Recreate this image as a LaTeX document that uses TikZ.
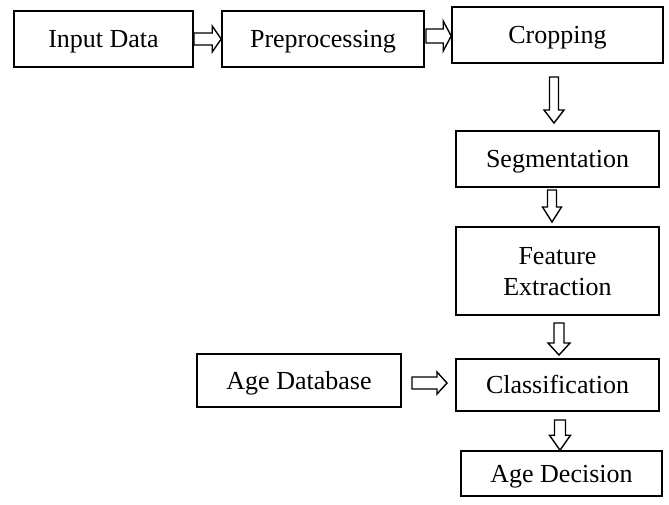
\documentclass[tikz,border=0pt]{standalone}
\usepackage{fontspec}
\setmainfont{Liberation Serif}
\usetikzlibrary{calc}
\tikzset{
  box/.style={draw, line width=1.6pt, inner sep=0pt, align=center,
    font=\fontsize{26}{31}\selectfont, text height=17pt, text depth=0pt},
  barrow/.style={draw, line width=1.4pt, fill=white, line join=miter}
}
% horizontal block arrow: from, to, shaft half, head half, head length
\newcommand\harrow[5]{%
  \draw[barrow] ($(#1)+(0,-#3)$) -- ($(#2)+(-#5,-#3)$) -- ($(#2)+(-#5,-#4)$) -- (#2)
    -- ($(#2)+(-#5,#4)$) -- ($(#2)+(-#5,#3)$) -- ($(#1)+(0,#3)$) -- cycle;}
% downward block arrow
\newcommand\varrow[5]{%
  \draw[barrow] ($(#1)+(-#3,0)$) -- ($(#2)+(-#3,-#5)$) -- ($(#2)+(-#4,-#5)$) -- (#2)
    -- ($(#2)+(#4,-#5)$) -- ($(#2)+(#3,-#5)$) -- ($(#1)+(#3,0)$) -- cycle;}
\begin{document}
\begin{tikzpicture}[x=1pt,y=-1pt]
\useasboundingbox (0,0) rectangle (669,504);
\node[box, minimum width=179pt, minimum height=56pt] (inp) at (103.5,39) {Input Data};
\node[box, minimum width=202pt, minimum height=56pt] (pre) at (323,39) {Preprocessing};
\node[box, minimum width=211pt, minimum height=56pt] (crop) at (557.5,35) {Cropping};
\node[box, minimum width=203pt, minimum height=56pt] (seg) at (557.5,159) {Segmentation};
\node[box, minimum width=203pt, minimum height=88pt, text height=48pt] (fe) at (557.5,271) {Feature\\Extraction};
\node[box, minimum width=203pt, minimum height=52pt] (cls) at (557.5,385) {Classification};
\node[box, minimum width=201pt, minimum height=45pt] (dec) at (561.5,473.5) {Age Decision};
\node[box, minimum width=204pt, minimum height=53pt] (adb) at (299,380.5) {Age Database};
% arrow end points
\coordinate (a1s) at (inp.east);
\coordinate (a1e) at (pre.west);
\coordinate (a2s) at (426,36);
\coordinate (a2e) at (crop.west |- a2s);
\coordinate (a3s) at (554,77);
\coordinate (a3e) at (554,123);
\coordinate (a4s) at (552,190);
\coordinate (a4e) at (552,222);
\coordinate (a5s) at (559,323);
\coordinate (a5e) at (559,355);
\coordinate (a6s) at (560,420);
\coordinate (a6e) at (dec.north -| a6s);
\coordinate (a7s) at (412,383);
\coordinate (a7e) at (447,383);
\harrow{a1s}{a1e}{6}{13}{9}
\harrow{a2s}{a2e}{7}{15}{8}
\varrow{a3s}{a3e}{4.5}{10}{13}
\varrow{a4s}{a4e}{4.5}{9.5}{15}
\varrow{a5s}{a5e}{5}{11}{12}
\varrow{a6s}{a6e}{5.5}{10.5}{15}
\harrow{a7s}{a7e}{6}{11}{10}
\end{tikzpicture}
\end{document}
